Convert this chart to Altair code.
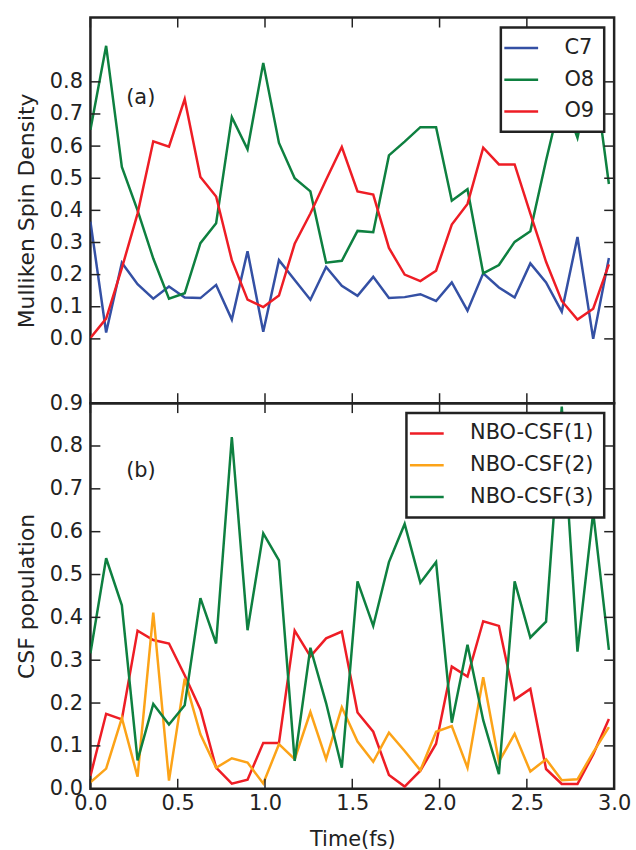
import altair as alt
import pandas as pd

# ---------------- data ----------------
time = [0.00, 0.09, 0.18, 0.27, 0.36, 0.45, 0.54, 0.63, 0.72, 0.81, 0.90, 0.99,
        1.08, 1.17, 1.26, 1.35, 1.44, 1.53, 1.62, 1.71, 1.80, 1.89, 1.98, 2.07,
        2.16, 2.25, 2.34, 2.43, 2.52, 2.61, 2.70, 2.79, 2.88, 2.97]

c7 = [0.365, 0.020, 0.237, 0.170, 0.125, 0.163, 0.129, 0.127, 0.168, 0.060, 0.273, 0.022,
      0.245, 0.183, 0.122, 0.224, 0.165, 0.134, 0.193, 0.127, 0.130, 0.139, 0.118, 0.176,
      0.088, 0.204, 0.160, 0.129, 0.235, 0.176, 0.085, 0.317, 0.000, 0.252]
o8 = [0.651, 0.912, 0.535, 0.400, 0.250, 0.125, 0.142, 0.298, 0.360, 0.690, 0.590, 0.859,
      0.610, 0.500, 0.459, 0.237, 0.243, 0.336, 0.332, 0.571, 0.614, 0.659, 0.659, 0.430,
      0.466, 0.204, 0.230, 0.302, 0.335, 0.555, 0.760, 0.626, 0.850, 0.482]
o9 = [0.003, 0.063, 0.220, 0.390, 0.615, 0.598, 0.746, 0.504, 0.443, 0.245, 0.122, 0.099,
      0.135, 0.296, 0.390, 0.495, 0.597, 0.459, 0.449, 0.283, 0.200, 0.180, 0.212, 0.356,
      0.420, 0.595, 0.543, 0.543, 0.390, 0.240, 0.118, 0.060, 0.094, 0.232]

csf1 = [0.030, 0.175, 0.162, 0.369, 0.347, 0.339, 0.265, 0.185, 0.049, 0.012, 0.021, 0.107,
        0.107, 0.369, 0.309, 0.351, 0.367, 0.178, 0.133, 0.032, 0.005, 0.042, 0.105, 0.285,
        0.262, 0.391, 0.380, 0.208, 0.233, 0.046, 0.011, 0.011, 0.080, 0.163]
csf2 = [0.015, 0.047, 0.165, 0.028, 0.411, 0.019, 0.257, 0.127, 0.049, 0.071, 0.061, 0.012,
        0.104, 0.069, 0.179, 0.069, 0.190, 0.110, 0.063, 0.131, 0.088, 0.043, 0.133, 0.146,
        0.049, 0.260, 0.063, 0.128, 0.040, 0.069, 0.020, 0.022, 0.085, 0.144]
csf3 = [0.316, 0.538, 0.428, 0.066, 0.198, 0.150, 0.195, 0.445, 0.339, 0.821, 0.370, 0.596,
        0.533, 0.065, 0.329, 0.200, 0.049, 0.484, 0.380, 0.529, 0.618, 0.481, 0.529, 0.154,
        0.336, 0.160, 0.034, 0.484, 0.353, 0.390, 0.892, 0.320, 0.645, 0.324]

top_names = ["C7", "O8", "O9"]
top_colors = ["#3450a4", "#0e8040", "#ee1d25"]
bot_names = ["NBO-CSF(1)", "NBO-CSF(2)", "NBO-CSF(3)"]
bot_colors = ["#ee1d25", "#fca318", "#0e8040"]

top_yticks = [0.0, 0.1, 0.2, 0.3, 0.4, 0.5, 0.6, 0.7, 0.8]
bot_yticks = [0.0, 0.1, 0.2, 0.3, 0.4, 0.5, 0.6, 0.7, 0.8, 0.9]
xticks = [0.0, 0.5, 1.0, 1.5, 2.0, 2.5, 3.0]

# ---------------- layout ----------------
W, H = 527, 388
TICK = 10
FONT = "DejaVu Sans"
INK = "#222222"
FS = 21


def long_df(names, series):
    rows = []
    for n, s in zip(names, series):
        for t, v in zip(time, s):
            rows.append({"t": t, "v": v, "s": n})
    return pd.DataFrame(rows)


def panel(df, names, colors, ydomain, yvals, ytitle, tag, tag_y, bottom):
    xscale = alt.Scale(domain=[0.0, 3.0], nice=False, zero=False)
    yscale = alt.Scale(domain=ydomain, nice=False, zero=False)
    if bottom:
        xaxis = alt.Axis(values=xticks, format=".1f", ticks=False, domain=False, grid=False,
                         labelFlush=False, labelPadding=4, labelFontSize=FS, labelColor=INK,
                         titleFontSize=FS, titleFontWeight="normal", titleColor=INK,
                         titlePadding=15, title="Time(fs)")
    else:
        xaxis = None
    yaxis = alt.Axis(values=yvals, format=".1f", ticks=False, domain=False, grid=False,
                     labelPadding=8, labelFontSize=FS, labelColor=INK, labelOverlap=False,
                     labelFlush=False,
                     titleFontSize=22, titleFontWeight="normal", titleColor=INK,
                     titlePadding=11, title=ytitle)

    X = alt.X("t:Q", scale=xscale, axis=xaxis)
    Y = alt.Y("v:Q", scale=yscale, axis=yaxis)

    lines = alt.Chart(df).mark_line(strokeWidth=2.5, clip=True).encode(
        x=X, y=Y,
        color=alt.Color("s:N", scale=alt.Scale(domain=names, range=colors),
                        legend=alt.Legend(title=None, orient="top-right", offset=10,
                                          symbolType="M-2,0H2", symbolSize=289,
                                          symbolStrokeWidth=2.5, labelFontSize=FS,
                                          labelColor=INK, labelOffset=33, padding=10,
                                          rowPadding=10, strokeColor=INK, fillColor="white",
                                          cornerRadius=0)),
    )

    ydf = pd.DataFrame({"v": yvals})
    xdf = pd.DataFrame({"t": xticks})
    tl = alt.Chart(ydf).mark_rule(color=INK, strokeWidth=1.5).encode(
        y=Y, x=alt.value(0), x2=alt.value(TICK))
    tr = alt.Chart(ydf).mark_rule(color=INK, strokeWidth=1.5).encode(
        y=Y, x=alt.value(W - TICK), x2=alt.value(W))
    tb = alt.Chart(xdf).mark_rule(color=INK, strokeWidth=1.5).encode(
        x=X, y=alt.value(H - TICK), y2=alt.value(H))
    tt = alt.Chart(xdf).mark_rule(color=INK, strokeWidth=1.5).encode(
        x=X, y=alt.value(0), y2=alt.value(TICK))

    label = alt.Chart(pd.DataFrame({"lab": [tag]})).mark_text(
        align="left", baseline="middle", fontSize=FS, font=FONT, color=INK
    ).encode(text="lab:N", x=alt.value(36), y=alt.value(tag_y))

    return alt.layer(lines, tl, tr, tb, tt, label).properties(width=W, height=H)


top = panel(long_df(top_names, [c7, o8, o9]), top_names, top_colors, [-0.2, 1.0],
            top_yticks, "Mulliken Spin Density", "(a)", 81, False)
bot = panel(long_df(bot_names, [csf1, csf2, csf3]), bot_names, bot_colors, [0.0, 0.9],
            bot_yticks, "CSF population", "(b)", 68, True)

chart = alt.vconcat(top, bot, spacing=0, bounds="flush").resolve_scale(
    color="independent", x="independent", y="independent"
).resolve_legend(color="independent").properties(
    padding={"left": 14, "top": 13, "right": 4, "bottom": 0}
).configure(font=FONT).configure_view(
    stroke=INK, strokeWidth=2.5
).configure_legend(strokeWidth=2.5, labelFont=FONT).configure_axis(
    labelFont=FONT, titleFont=FONT
)

chart.save("out.html", embed_options={"renderer": "svg", "actions": False})
